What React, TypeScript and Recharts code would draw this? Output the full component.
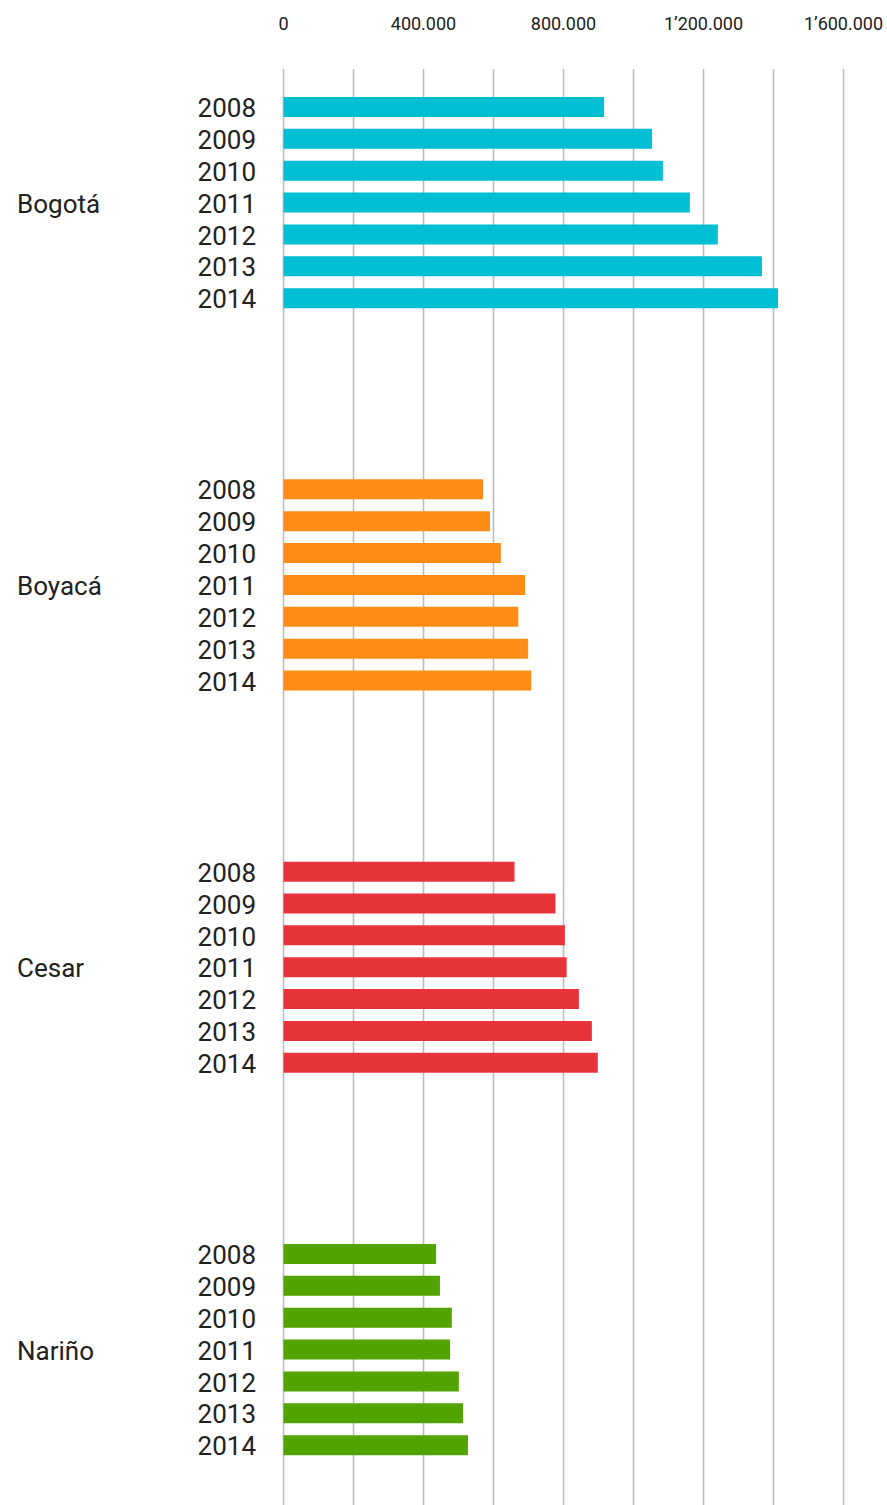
import React from 'react';
import { BarChart, Bar, XAxis, YAxis, CartesianGrid, Cell } from 'recharts';

const regions = ['Bogotá', 'Boyacá', 'Cesar', 'Nariño'];
const years = ['2008', '2009', '2010', '2011', '2012', '2013', '2014'];
const bogota = [916000, 1053000, 1084000, 1161000, 1241000, 1367000, 1413000];
const boyaca = [570000, 590000, 621000, 690000, 671000, 699000, 708000];
const cesar = [660000, 777000, 804000, 809000, 844000, 881000, 898000];
const narino = [436000, 447000, 481000, 476000, 501000, 513000, 527000];
const regionColors = ['#00BED4', '#FF8C16', '#E8333B', '#53A302'];
const xTicks = [0, 200000, 400000, 600000, 800000, 1000000, 1200000, 1400000, 1600000];
const xTickLabels: Record<number, string> = {
  0: '0',
  400000: '400.000',
  800000: '800.000',
  1200000: '1’200.000',
  1600000: '1’600.000',
};

const seriesByRegion = [bogota, boyaca, cesar, narino];
const GAP_ROWS = 5;

type Row = { key: string; region: string; year: string; value: number | null; fill: string };
const rows: Row[] = [];
regions.forEach((region, i) => {
  years.forEach((year, j) => {
    rows.push({ key: `${region}|${year}`, region, year, value: seriesByRegion[i][j], fill: regionColors[i] });
  });
  if (i < regions.length - 1) {
    for (let k = 0; k < GAP_ROWS; k++) {
      rows.push({ key: `gap${i}-${k}`, region: '', year: '', value: null, fill: 'none' });
    }
  }
});
const rowMap: Record<string, Row> = {};
rows.forEach((r) => (rowMap[r.key] = r));

const FONT = 'Roboto, "Noto Sans", sans-serif';

const YTick = (props: any) => {
  const { y, payload } = props;
  const row = rowMap[payload?.value];
  if (!row || !row.year) return <g />;
  return (
    <g>
      <text x={256} y={y + 1} dy="0.355em" textAnchor="end" fontSize={26} fontFamily={FONT} fill="#212121">
        {row.year}
      </text>
      {row.year === '2011' ? (
        <text x={17} y={y + 1} dy="0.355em" textAnchor="start" fontSize={26} fontFamily={FONT} fill="#212121">
          {row.region}
        </text>
      ) : null}
    </g>
  );
};

const XTick = (props: any) => {
  const { x, payload } = props;
  const label = xTickLabels[payload?.value];
  if (!label) return <g />;
  return (
    <text x={x} y={24} dy="0.355em" textAnchor="middle" fontSize={18} fontFamily={FONT} fill="#212121">
      {label}
    </text>
  );
};

export default function App() {
  return (
    <div style={{ width: 887, height: 1505 }}>
      <style>{`body{margin:0;}`}</style>
      <BarChart
        width={887}
        height={1505}
        data={rows}
        layout="vertical"
        margin={{ top: 0, right: 43.5, bottom: 0, left: 0 }}
      >
        <CartesianGrid horizontal={false} vertical={true} stroke="#bdbdbd" strokeWidth={1.6} />
        <XAxis
          type="number"
          orientation="top"
          domain={[0, 1600000]}
          ticks={xTicks}
          interval={0}
          axisLine={false}
          tickLine={false}
          height={69}
          tick={<XTick />}
        />
        <YAxis
          type="category"
          dataKey="key"
          interval={0}
          width={283.5}
          axisLine={false}
          tickLine={false}
          padding={{ top: 22, bottom: 44 }}
          tick={<YTick />}
        />
        <Bar dataKey="value" barSize={20} isAnimationActive={false}>
          {rows.map((r) => (
            <Cell key={r.key} fill={r.fill} />
          ))}
        </Bar>
      </BarChart>
    </div>
  );
}
